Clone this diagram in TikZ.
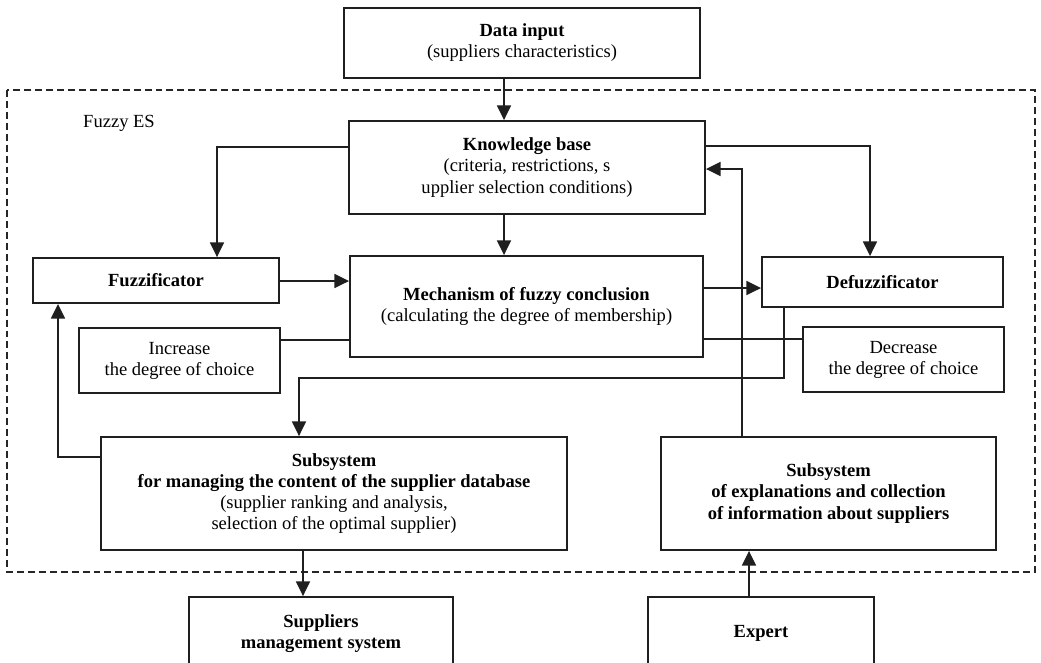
\documentclass[tikz,border=0pt]{standalone}
\usepackage{fontspec}
\setmainfont{Liberation Serif}
\usetikzlibrary{arrows.meta}
\begin{document}
\begin{tikzpicture}[x=0.75pt,y=-0.75pt,
  blk/.style 2 args={draw=black!88, line width=1.4pt, rectangle, align=center,
    minimum width=#1*0.75pt, minimum height=#2*0.75pt, inner sep=0pt,
    font=\fontsize{13.9pt}{15.8pt}\selectfont},
  arr/.style={draw=black!88, line width=1.2pt, -{Triangle[length=11pt,width=10.5pt]}},
  ln/.style={draw=black!88, line width=1.2pt},
  frame/.style={draw=black!85, line width=1.1pt, dash pattern=on 5.2pt off 3pt},
  lbl/.style={font=\fontsize{13.9pt}{15.8pt}\selectfont, inner sep=0pt}]
\useasboundingbox (0,0) rectangle (1041,662);
\clip (0,0) rectangle (1041,662);
\fill[white] (0,0) rectangle (1041,662);

% dashed frame
\draw[frame] (7,90) rectangle (1035,572);
\node[lbl] (fes) at (119,123) {Fuzzy ES};

% boxes
\node[blk={356}{70}] (din) at (522,43) {\textbf{Data input}\\(suppliers characteristics)};
\node[blk={356}{93}] (kb) at (527,167.5) {\textbf{Knowledge base}\\(criteria, restrictions, s\\upplier selection conditions)};
\node[blk={246}{45}] (fuzz) at (156,280.5) {\textbf{Fuzzificator}};
\node[blk={353}{101}] (mech) at (526.5,306.5) {\textbf{Mechanism of fuzzy conclusion}\\(calculating the degree of membership)};
\node[blk={241}{50}] (defuzz) at (882.5,282) {\textbf{Defuzzificator}};
\node[blk={201}{65}] (inc) at (179.5,360.5) {Increase\\the degree of choice};
\node[blk={201}{65}] (dec) at (903.5,359.5) {Decrease\\the degree of choice};
\node[blk={466}{113}] (sub) at (334,493.5) {\textbf{Subsystem}\\\textbf{for managing the content of the supplier database}\\(supplier ranking and analysis,\\selection of the optimal supplier)};
\node[blk={335}{113}] (expl) at (828.5,493.5) {\textbf{Subsystem}\\\textbf{of explanations and collection}\\\textbf{of information about suppliers}};
\node[blk={264}{73}] (sms) at (321,633.5) {\textbf{Suppliers}\\\textbf{management system}};
\node[blk={226}{73}] (expert) at (761,633.5) {\textbf{Expert}};

% connectors
\draw[arr] (din.south -| 504,0) -- (kb.north -| 504,0);
\draw[arr] (kb.west |- 0,147) -| (fuzz.north -| 217,0);
\draw[arr] (kb.south -| 504,0) -- (mech.north -| 504,0);
\draw[arr] (kb.east |- 0,146) -| (defuzz.north -| 870,0);
\draw[arr] (fuzz.east |- 0,281) -- (mech.west |- 0,281);
\draw[arr] (mech.east |- 0,288) -- (defuzz.west |- 0,288);
\draw[ln] (inc.east |- 0,340) -- (mech.west |- 0,340);
\draw[ln] (mech.east |- 0,339) -- (dec.west |- 0,339);
\draw[arr] (defuzz.south -| 784,0) -- (784,378) -| (sub.north -| 299,0);
\draw[arr] (expl.north -| 742,0) |- (kb.east |- 0,169);
\draw[arr] (sub.west |- 0,457) -| (fuzz.south -| 58,0);
\draw[arr] (sub.south -| 303,0) -- (sms.north -| 303,0);
\draw[arr] (expert.north -| 749,0) -- (expl.south -| 749,0);
\end{tikzpicture}
\end{document}
